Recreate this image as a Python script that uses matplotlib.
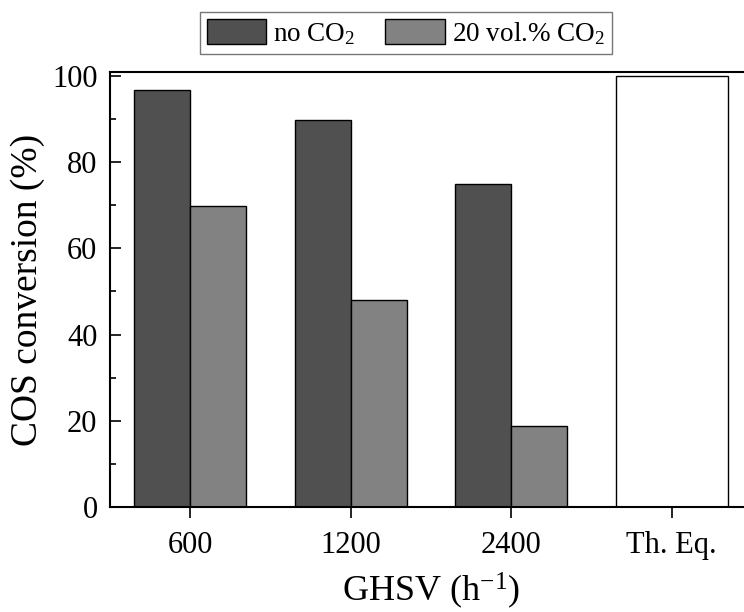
import numpy as np
import matplotlib
matplotlib.use("Agg")
import matplotlib.pyplot as plt
from matplotlib.ticker import MultipleLocator

plt.rcParams['font.family'] = ['Liberation Serif', 'DejaVu Serif']
plt.rcParams['mathtext.fontset'] = 'custom'
plt.rcParams['mathtext.rm'] = 'Liberation Serif'
plt.rcParams['mathtext.it'] = 'Liberation Serif:italic'

# GHSV categories and COS conversion (%)
categories = ['600', '1200', '2400', 'Th. Eq.']
no_co2 = [96.7, 89.8, 74.9]
with_co2 = [69.8, 47.9, 18.9]
equilibrium = 100.0

DARK = '#505050'
LIGHT = '#828282'
W = 0.35

fig = plt.figure(figsize=(7.44, 6.12), dpi=100)
ax = fig.add_axes([110/744, 105/612, 642/744, 435/612])

x = np.arange(len(no_co2))
ax.bar(x - W/2, no_co2, W, color=DARK, edgecolor='black', linewidth=1.0, label='no CO$_2$')
ax.bar(x + W/2, with_co2, W, color=LIGHT, edgecolor='black', linewidth=1.0, label='20 vol.% CO$_2$')
ax.bar(len(no_co2), equilibrium, 2*W, color='white', edgecolor='black', linewidth=1.0)

ax.set_xlim(-0.5, 3.5)
ax.set_ylim(0, 100.9)
ax.set_xticks(range(len(categories)))
ax.set_xticklabels(categories)
ax.yaxis.set_major_locator(MultipleLocator(20))
ax.yaxis.set_minor_locator(MultipleLocator(10))

ax.tick_params(axis='y', which='major', direction='in', length=8, width=1.2, labelsize=22, pad=9)
ax.tick_params(axis='y', which='minor', direction='in', length=4, width=1.2)
ax.tick_params(axis='x', which='major', direction='out', length=8, width=1.2, labelsize=22, pad=9)

for s in ax.spines.values():
    s.set_linewidth(1.5)

ax.set_ylabel('COS conversion (%)', fontsize=27, labelpad=5)
ax.set_xlabel('GHSV (h$^{-1}$)', fontsize=26, labelpad=8)

leg = fig.legend(loc='center', bbox_to_anchor=(406/744, 1 - 33/612), ncol=2,
                 fontsize=19.5, frameon=True, fancybox=False, edgecolor='#555555',
                 handlelength=2.2, handleheight=1.05, handletextpad=0.26,
                 columnspacing=1.1, borderpad=0.25, borderaxespad=0)
leg.get_frame().set_linewidth(1.0)

fig.savefig('out.png', dpi=100)
